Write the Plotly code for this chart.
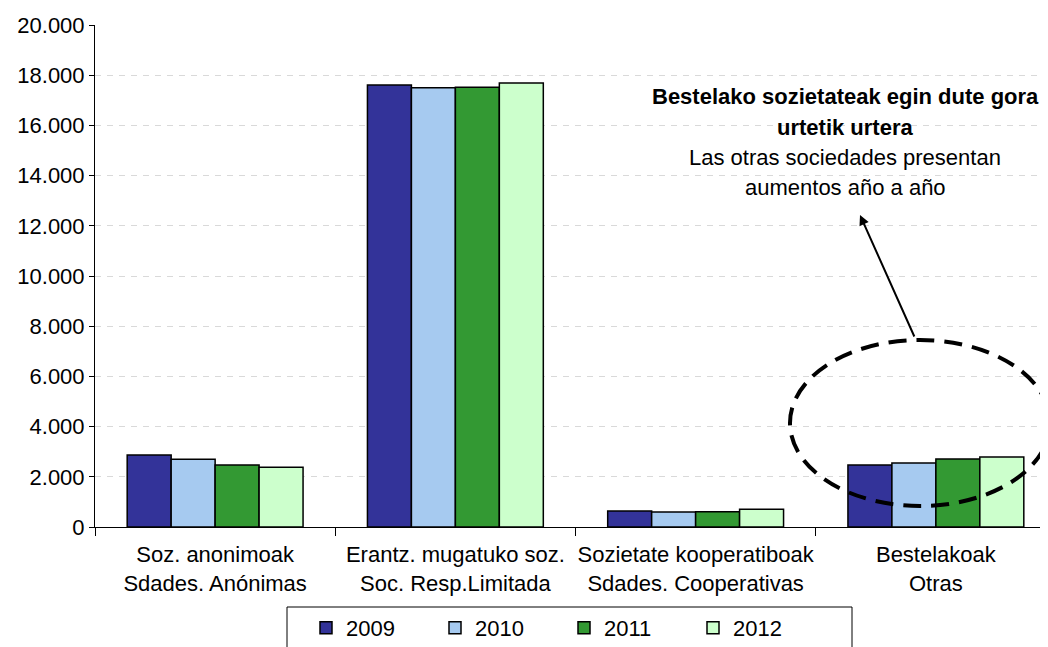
import plotly.graph_objects as go

categories = [
    "Soz. anonimoak<br>Sdades. Anónimas",
    "Erantz. mugatuko soz.<br>Soc. Resp.Limitada",
    "Sozietate kooperatiboak<br>Sdades. Cooperativas",
    "Bestelakoak<br>Otras",
]
years = ["2009", "2010", "2011", "2012"]
v2009 = [2870, 17610, 640, 2470]
v2010 = [2700, 17500, 600, 2550]
v2011 = [2470, 17520, 610, 2710]
v2012 = [2380, 17690, 705, 2790]
series = [v2009, v2010, v2011, v2012]
colors = ["#333399", "#A6CAF0", "#339933", "#CCFFCC"]
yticks = [0, 2000, 4000, 6000, 8000, 10000, 12000, 14000, 16000, 18000, 20000]

W, H = 1048, 647
OFF = 8  # page body margin offset
L, T, R, B = 87, 17, 0, 128
PW, PH = W - L - R, H - T - B


def px(x):
    # screen x -> paper x
    return (x - OFF - L) / PW


def py(y):
    # screen y -> paper y
    return (H - B - (y - OFF)) / PH


FONT = "Liberation Sans, Arial, sans-serif"

fig = go.Figure()
for name, vals, col in zip(years, series, colors):
    fig.add_trace(go.Bar(
        x=categories, y=vals, name=name,
        marker=dict(color=col, line=dict(color="black", width=1.5)),
    ))

fig.update_layout(
    width=W, height=H,
    margin=dict(l=L, r=R, t=T, b=B, autoexpand=False),
    paper_bgcolor="white", plot_bgcolor="white",
    font=dict(family=FONT, size=22, color="black"),
    separators=",.",
    barmode="group", bargap=0.268, bargroupgap=0,
    showlegend=True,
    legend=dict(
        orientation="h", x=px(306), xanchor="left", y=py(607), yanchor="top",
        entrywidth=84, entrywidthmode="pixels",
        font=dict(size=22, family=FONT), bgcolor="rgba(0,0,0,0)", borderwidth=0,
        traceorder="normal",
    ),
    xaxis=dict(
        range=[-0.5, 3.5], showline=True, linecolor="black", linewidth=1,
        ticks="outside", tickson="boundaries", ticklen=8, tickcolor="black",
        showgrid=False, tickfont=dict(size=22), tickangle=0,
        ticklabelstandoff=8,
    ),
    yaxis=dict(
        range=[0, 20000], tickvals=yticks, tickformat=",d",
        showline=True, linecolor="black", linewidth=1,
        ticks="outside", ticklen=5, tickcolor="black",
        showgrid=True, gridcolor="#D9D9D9", gridwidth=1, griddash="6px,6px",
        zeroline=False, tickfont=dict(size=22),
    ),
)

# legend frame
fig.add_shape(type="rect", xref="paper", yref="paper",
              x0=px(287), x1=px(852), y0=py(607), y1=py(670),
              line=dict(color="black", width=1), fillcolor="rgba(0,0,0,0)")

# dashed ellipse
fig.add_shape(type="circle", xref="paper", yref="paper",
              x0=px(790), x1=px(1050), y0=py(506), y1=py(340),
              line=dict(color="black", width=4, dash="18px,10px"))

# arrow
fig.add_annotation(xref="paper", yref="paper", x=px(860), y=py(215),
                   ax=55, ay=123, text="", showarrow=True,
                   arrowhead=2, arrowsize=1, arrowwidth=2, arrowcolor="black")

lines = [
    ("<b>Bestelako sozietateak egin dute gora</b>", 97),
    ("<b>urtetik urtera</b>", 127),
    ("Las otras sociedades presentan", 157),
    ("aumentos año a año", 187),
]
for txt, yy in lines:
    fig.add_annotation(xref="paper", yref="paper", x=px(845), y=py(yy),
                       xanchor="center", yanchor="middle", text=txt,
                       showarrow=False, font=dict(size=22, family=FONT, color="black"))

fig.write_html("out.html")
